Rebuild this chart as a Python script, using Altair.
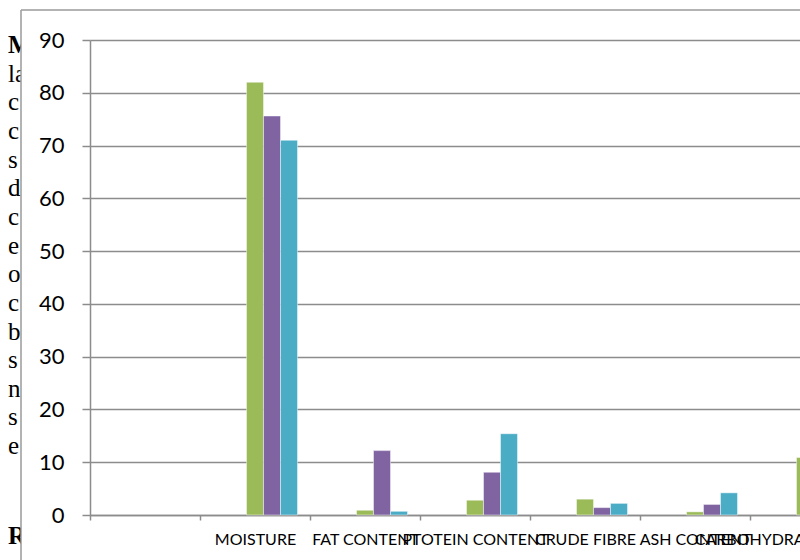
import altair as alt
import pandas as pd

# ---- chart data ----
categories = ["", "MOISTURE", "FAT CONTENT", "PTOTEIN CONTENT", "CRUDE FIBRE", "ASH CONTENT", "CARBOHYDRATE"]
series_names = ["Series 1", "Series 2", "Series 3", "Series 4", "Series 5"]
series_colors = ["#4F81BD", "#C0504D", "#9BBB59", "#8064A2", "#4BACC6"]
series3_values = [None, 82.0, 0.9, 2.8, 3.0, 0.6, 10.9]
series4_values = [None, 75.6, 12.2, 8.1, 1.4, 2.0, None]
series5_values = [None, 71.0, 0.7, 15.4, 2.2, 4.2, None]
y_ticks = [0, 10, 20, 30, 40, 50, 60, 70, 80, 90]

# document text peeking out on the left of the chart
doc_lines = ["M", "la", "c", "c", "s", "d", "c", "e", "o", "c", "b", "s", "n", "s", "e"]
doc_bold = [True] + [False] * 14
doc_heading = "R"

rows = []
for name, vals in [("Series 3", series3_values), ("Series 4", series4_values), ("Series 5", series5_values)]:
    for cat, v in zip(categories, vals):
        if v is not None:
            rows.append({"category": cat, "series": name, "value": v})
bars_df = pd.DataFrame(rows)

doc_df = pd.DataFrame({
    "text": doc_lines + [doc_heading],
    "bold": doc_bold + [True],
    "line": list(range(len(doc_lines))) + [17.15],
})

FONT = "Lato"
GRID = "#8c8c8c"

bars = alt.Chart(bars_df).mark_bar(stroke="white", strokeOpacity=0.45, strokeWidth=1).encode(
    x=alt.X(
        "category:N",
        sort=categories,
        scale=alt.Scale(domain=categories, range=[0, 770], paddingInner=0, paddingOuter=0),
        axis=alt.Axis(
            title=None,
            labelAngle=0,
            labelFont=FONT,
            labelFontSize=16,
            labelColor="#000000",
            labelPadding=11,
            labelOverlap=False,
            labelLimit=500,
            labelOffset={"condition": {"test": "datum.value == 'CARBOHYDRATE'", "value": -47}, "value": 0},
            tickBand="extent",
            tickSize=5,
            tickColor=GRID,
            tickWidth=1.5,
            domainColor=GRID,
            domainWidth=1.5,
            grid=False,
        ),
    ),
    xOffset=alt.XOffset(
        "series:N",
        scale=alt.Scale(domain=series_names, paddingInner=0, paddingOuter=0.735),
    ),
    y=alt.Y(
        "value:Q",
        scale=alt.Scale(domain=[0, 90], nice=False),
        axis=alt.Axis(
            title=None,
            values=y_ticks,
            labelFont=FONT,
            labelFontSize=22,
            labelColor="#000000",
            labelPadding=18,
            tickSize=8,
            tickColor=GRID,
            tickWidth=1.5,
            domainColor=GRID,
            domainWidth=1.5,
            grid=True,
            gridColor=GRID,
            gridWidth=1.5,
        ),
    ),
    color=alt.Color("series:N", scale=alt.Scale(domain=series_names, range=series_colors), legend=None),
)


def doc_layer(bold):
    return alt.Chart(doc_df).transform_filter(
        "datum.bold" if bold else "!datum.bold"
    ).transform_calculate(
        py="13 + datum.line * 28.65"
    ).mark_text(
        font="Liberation Serif", fontSize=25, align="left", baseline="alphabetic",
        color="#000000", fontWeight="bold" if bold else "normal",
    ).encode(
        x=alt.value(-82),
        y=alt.Y("py:Q", scale=None, axis=None),
        text="text:N",
    )


one = alt.Data(values=[{"k": 1}])

cover = alt.Chart(one).mark_rect(color="white").encode(
    x=alt.value(-69), x2=alt.value(-53), y=alt.value(-30), y2=alt.value(520)
)

border_left = alt.Chart(one).mark_rule(color="#9a9a9a", strokeWidth=1.5).encode(
    x=alt.value(-69), y=alt.value(-30), y2=alt.value(520)
)
border_top = alt.Chart(one).mark_rule(color="#9a9a9a", strokeWidth=1.5).encode(
    x=alt.value(-69), x2=alt.value(710), y=alt.value(-30)
)

chart = alt.layer(doc_layer(False), doc_layer(True), cover, border_left, border_top, bars).resolve_scale(
    y="independent"
).properties(
    width=710,
    height=475,
    padding={"left": 90, "top": 40, "right": 0, "bottom": 45},
    autosize=alt.AutoSizeParams(type="none"),
    background="white",
).configure_view(stroke=None)

chart.save("out.html", embed_options={"renderer": "svg", "actions": False})
